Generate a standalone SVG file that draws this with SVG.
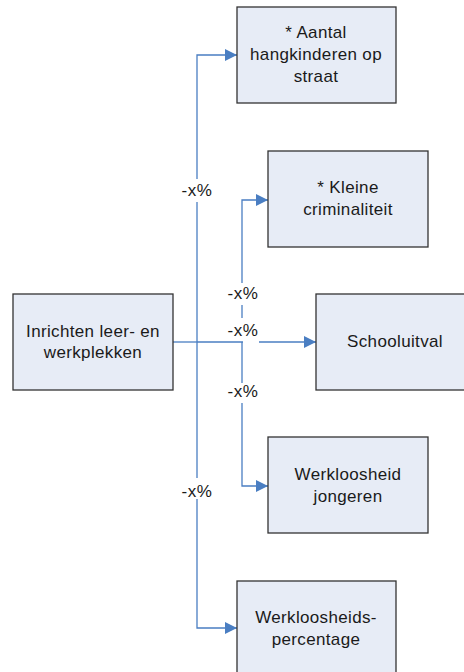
<svg xmlns="http://www.w3.org/2000/svg" width="464" height="672" viewBox="0 0 464 672">
<defs>
<style>
.box{fill:#E7ECF6;stroke:#333;stroke-width:1.3}
.t{font-family:"Liberation Sans",Arial,sans-serif;font-size:17px;letter-spacing:0.35px;fill:#1a1a1a;text-anchor:middle}
.c{fill:none;stroke:#4A7EC2;stroke-width:1.3}
.lbl{font-family:"Liberation Sans",Arial,sans-serif;font-size:17px;letter-spacing:0.5px;fill:#1a1a1a;text-anchor:middle}
</style>
<marker id="ah" markerWidth="12" markerHeight="12" refX="12" refY="6" orient="auto" markerUnits="userSpaceOnUse">
<path d="M0,0 L12,6 L0,12 Z" fill="#4A7EC2"/>
</marker>
</defs>
<rect width="464" height="672" fill="#fff"/>
<g id="connectors">
<path class="c" d="M173,342 H197"/>
<path class="c" d="M197,179 V55 H237" marker-end="url(#ah)"/>
<path class="c" d="M197,202 V478"/>
<path class="c" d="M197,499 V628 H237" marker-end="url(#ah)"/>
<path class="c" d="M197,342 H243"/>
<path class="c" d="M259,342 H316" marker-end="url(#ah)"/>
<path class="c" d="M242,283 V200 H268" marker-end="url(#ah)"/>
<path class="c" d="M242,305 V318"/>
<path class="c" d="M242,342 V383"/>
<path class="c" d="M242,403 V486 H268" marker-end="url(#ah)"/>
<text class="lbl" x="197" y="196">-x%</text>
<text class="lbl" x="243" y="299">-x%</text>
<text class="lbl" x="243" y="336">-x%</text>
<text class="lbl" x="243" y="397">-x%</text>
<text class="lbl" x="197" y="497">-x%</text>
</g>
<g id="source">
<rect class="box" x="13" y="294" width="160" height="96"/>
<text class="t" x="93" y="337">Inrichten leer- en</text>
<text class="t" x="93" y="358">werkplekken</text>
</g>
<g id="aantal">
<rect class="box" x="237" y="7" width="159" height="96"/>
<text class="t" x="316" y="38">* Aantal</text>
<text class="t" x="316" y="60">hangkinderen op</text>
<text class="t" x="316" y="82">straat</text>
</g>
<g id="kleine">
<rect class="box" x="268" y="151" width="160" height="96"/>
<text class="t" x="348" y="193">* Kleine</text>
<text class="t" x="348" y="215">criminaliteit</text>
</g>
<g id="schooluitval">
<rect class="box" x="316" y="294" width="160" height="96"/>
<text class="t" x="395" y="347">Schooluitval</text>
</g>
<g id="werkloosheid">
<rect class="box" x="268" y="437" width="160" height="96"/>
<text class="t" x="348" y="480">Werkloosheid</text>
<text class="t" x="348" y="502">jongeren</text>
</g>
<g id="percentage">
<rect class="box" x="237" y="581" width="159" height="96"/>
<text class="t" x="316" y="623">Werkloosheids-</text>
<text class="t" x="316" y="645">percentage</text>
</g>
</svg>
